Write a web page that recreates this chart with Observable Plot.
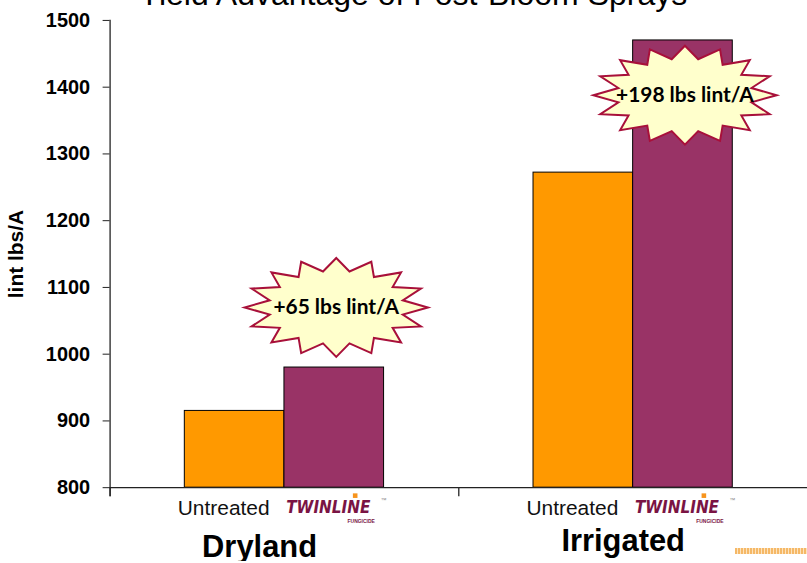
<!DOCTYPE html>
<html>
<head>
<meta charset="utf-8">
<script src="https://cdn.jsdelivr.net/npm/d3@7"></script>
<script src="https://cdn.jsdelivr.net/npm/@observablehq/plot@0.6"></script>
<style>
  html, body { margin: 0; padding: 0; background: #fff; overflow: hidden; }
  #wrap { position: relative; width: 807px; height: 563px; overflow: hidden; }
  #title { position: absolute; left: 0; width: 826px; top: -22px; text-align: center;
           font: 32px "Liberation Sans", Arial, sans-serif; line-height: 32px; color: #000; white-space: nowrap; }
  #deco { position: absolute; left: 735px; top: 548px; width: 72px; height: 6px;
          background: repeating-linear-gradient(90deg, #f5b867 0 2px, #fde3bd 2px 3px); }
</style>
</head>
<body>
<div id="wrap">
  <div id="chart"></div>
  <div id="title">Yield Advantage of Post-Bloom Sprays</div>
  <div id="deco"></div>
</div>
<script>
const groups = ["Dryland", "Irrigated"];
const treatments = ["Untreated", "Twinline"];
const untreatedYield = [915, 1272];
const twinlineYield = [980, 1470];
const yTicks = [800, 900, 1000, 1100, 1200, 1300, 1400, 1500];
const gainLabels = ["+65 lbs lint/A", "+198 lbs lint/A"];
const gainAnchor = [1070, 1388];

const yMin = yTicks[0], yMax = yTicks[yTicks.length - 1];

const bars = groups.flatMap((g, i) => [
  {group: g, treatment: treatments[0], value: untreatedYield[i]},
  {group: g, treatment: treatments[1], value: twinlineYield[i]}
]);
const gains = groups.map((g, i) => ({group: g, label: gainLabels[i], at: gainAnchor[i]}));
const untreatedRows = bars.filter(d => d.treatment === "Untreated");
const twinRows = bars.filter(d => d.treatment === "Twinline");

const burst = {
  draw(ctx, size) {
    const r = Math.sqrt(size / Math.PI);
    const n = 16;
    for (let i = 0; i < 2 * n; i++) {
      const a = i * Math.PI / n;
      const k = i % 2 ? 0.74 : 1;
      const x = Math.cos(a) * k * r, y = Math.sin(a) * k * r * 0.54;
      if (i === 0) ctx.moveTo(x, y); else ctx.lineTo(x, y);
    }
    ctx.closePath();
  }
};

const logoColor = "#7a1444";

const chart = Plot.plot({
  width: 810,
  height: 563,
  marginLeft: 110,
  marginRight: 0,
  marginTop: 20,
  marginBottom: 74,
  style: {fontFamily: "'Liberation Sans', Arial, sans-serif", background: "white"},
  fx: {domain: groups, paddingInner: 0, paddingOuter: 0, axis: null},
  x: {domain: treatments, paddingInner: 0, paddingOuter: 0.75, axis: null},
  y: {domain: [yMin, yMax], axis: null},
  color: {domain: treatments, range: ["#FF9900", "#993366"]},
  marks: [
    Plot.barY(bars, {fx: "group", x: "treatment", y1: yMin, y2: "value", fill: "treatment",
      stroke: "#000", strokeWidth: 1, inset: 0}),
    Plot.ruleY([yMin], {stroke: "#222", strokeWidth: 1.3}),
    Plot.frame({anchor: "left", facetAnchor: "left", stroke: "#222", strokeWidth: 1.3, insetBottom: -8}),
    Plot.frame({anchor: "left", stroke: "#222", strokeWidth: 1.3, insetTop: 469, insetBottom: -8}),
    Plot.axisY(yTicks, {anchor: "left", tickSize: 7, tickPadding: 13, fontSize: 20, fontWeight: "bold",
      tickFormat: d3.format("d"), stroke: "#222", label: null}),
    Plot.axisY(yTicks, {anchor: "left", tickSize: 0, tickFormat: () => "", fontSize: 21, fontWeight: "bold",
      label: "lint lbs/A", labelArrow: "none", labelAnchor: "center", labelOffset: 102}),
    Plot.dot(gains, {fx: "group", x: () => "Twinline", y: "at", symbol: burst, r: 92,
      fill: "#FFFFCC", stroke: "#A8103A", strokeWidth: 2, dx: 2}),
    Plot.text(gains, {fx: "group", x: () => "Twinline", y: "at", text: "label", dx: 2,
      fontFamily: "Lato, 'Liberation Sans', sans-serif", fontWeight: "bold", fontSize: 21, fill: "#000"}),
    Plot.text(untreatedRows, {fx: "group", x: "treatment", y: yMin, text: "treatment",
      dy: 21, dx: -11, fontSize: 21, lineAnchor: "middle", fill: "#111"}),
    Plot.text(twinRows, {fx: "group", x: "treatment", y: yMin, text: d => "TWINLINE",
      dy: 20, dx: -6, fontSize: 17, fontStyle: "italic", fontWeight: 900, lineAnchor: "middle",
      fontFamily: "'DejaVu Sans Condensed', 'DejaVu Sans', sans-serif", fill: logoColor}),
    Plot.dot(twinRows, {fx: "group", x: "treatment", y: yMin, symbol: "square", r: 2.6,
      fill: "#F7941D", dx: 21, dy: 8}),
    Plot.text(twinRows, {fx: "group", x: "treatment", y: yMin, text: d => "FUNGICIDE",
      dy: 34, dx: 27, fontSize: 5, fontWeight: "bold", fill: logoColor}),
    Plot.text(twinRows, {fx: "group", x: "treatment", y: yMin, text: d => "™",
      dy: 12, dx: 50, fontSize: 6, fill: "#888"}),
    Plot.text(groups.slice(0, 1), {fx: d => d, frameAnchor: "bottom", text: d => d, dy: 70, dx: -25,
      lineAnchor: "bottom", fontSize: 31, fontWeight: "bold", fill: "#000"}),
    Plot.text(groups.slice(1), {fx: d => d, frameAnchor: "bottom", text: d => d, dy: 64, dx: -10,
      lineAnchor: "bottom", fontSize: 31, fontWeight: "bold", fill: "#000"})
  ]
});
document.getElementById("chart").appendChild(chart);
</script>
</body>
</html>
